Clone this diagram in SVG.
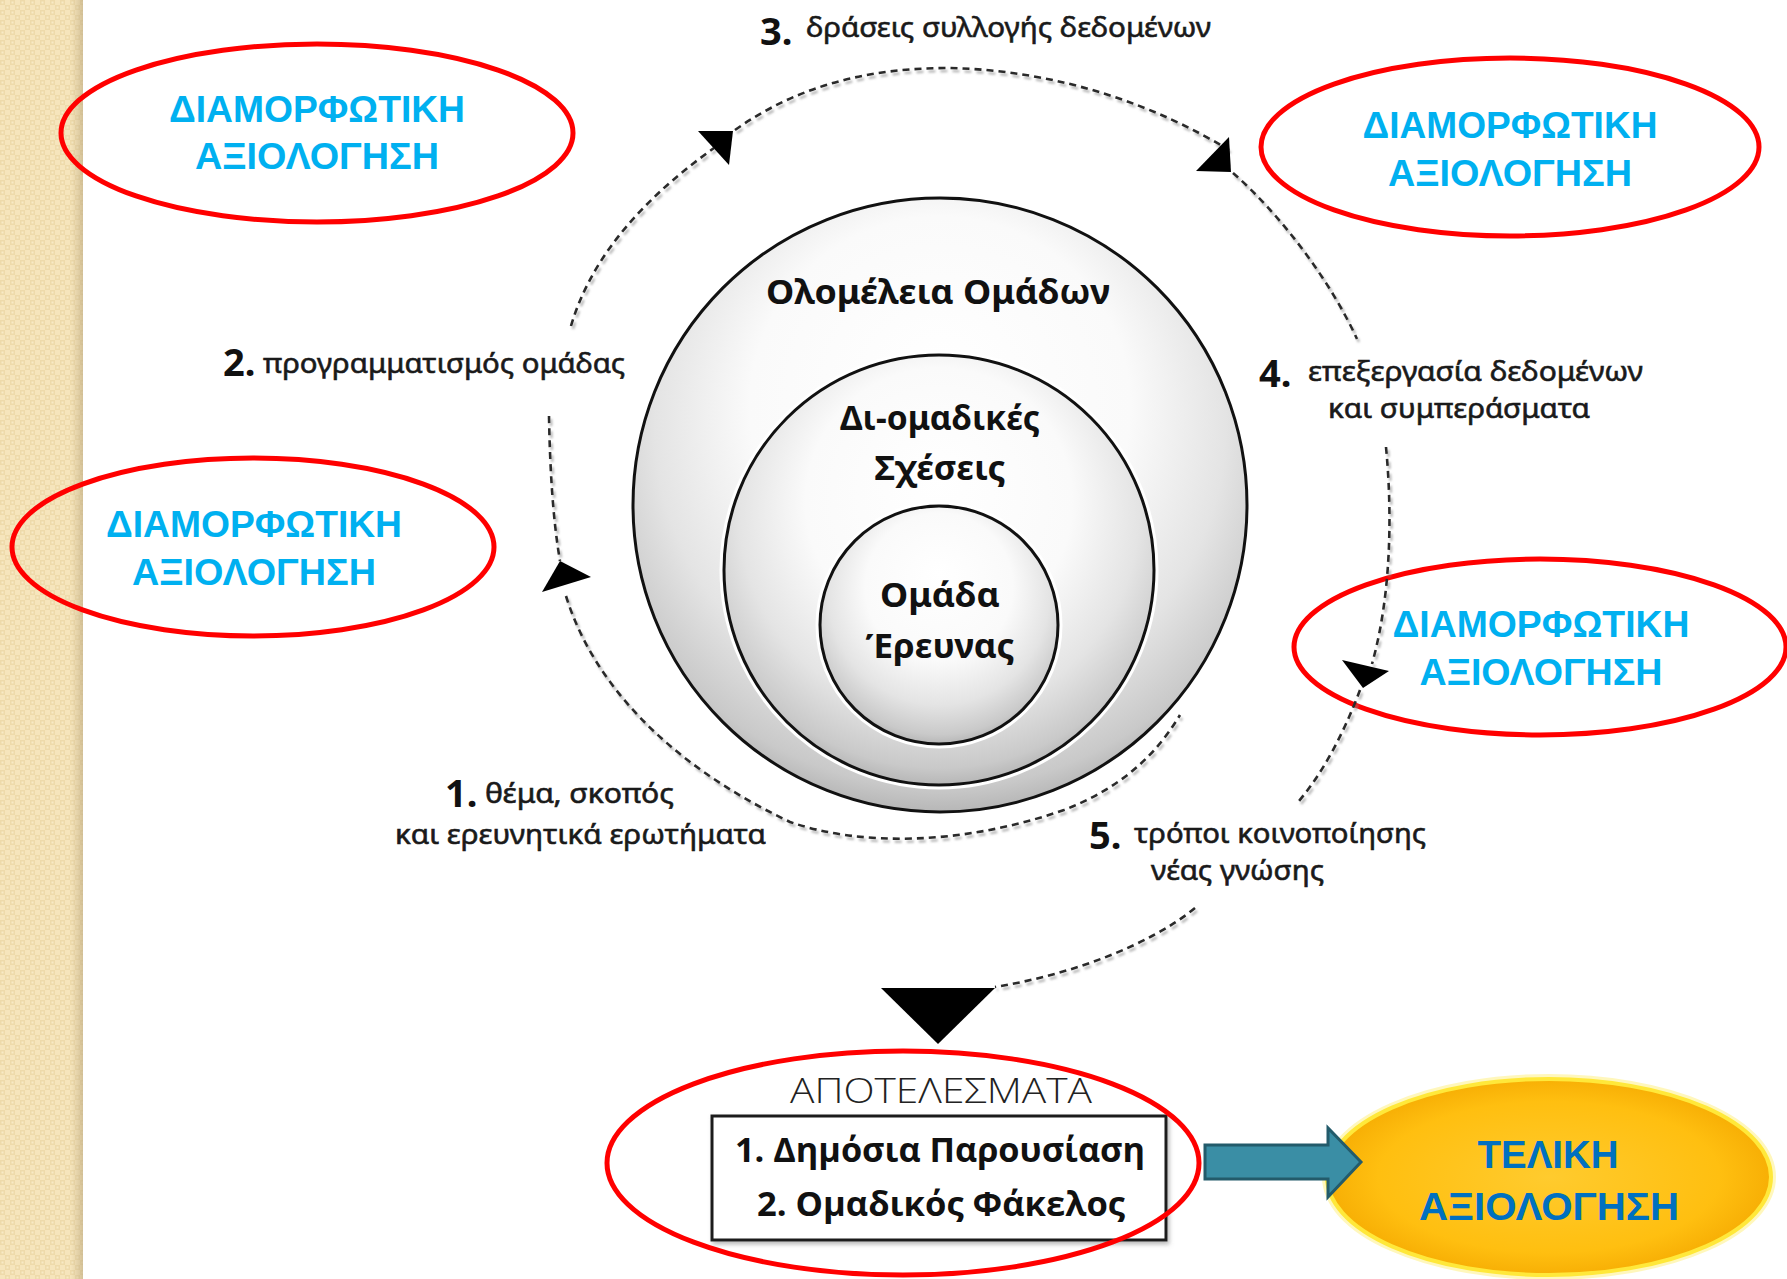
<svg xmlns="http://www.w3.org/2000/svg" width="1787" height="1279" viewBox="0 0 1787 1279">
<defs>
<pattern id="chk" x="0" y="0" width="10" height="10" patternUnits="userSpaceOnUse">
<rect width="10" height="10" fill="#F6E5BC"/>
<rect x="0" y="0" width="5" height="5" fill="#EEDAAA"/>
<rect x="5" y="5" width="5" height="5" fill="#EEDAAA"/>
<rect x="1.5" y="1.5" width="2" height="2" fill="#F8EAC6"/>
<rect x="6.5" y="6.5" width="2" height="2" fill="#F8EAC6"/>
</pattern>
<linearGradient id="edge" x1="0" y1="0" x2="1" y2="0">
<stop offset="0" stop-color="#C8B48A" stop-opacity="0"/>
<stop offset="1" stop-color="#B8A47A" stop-opacity="0.55"/>
</linearGradient>
<radialGradient id="disc" cx="0.5" cy="0.4" r="0.62" fx="0.5" fy="0.28">
<stop offset="0" stop-color="#ffffff"/>
<stop offset="0.5" stop-color="#fafafa"/>
<stop offset="0.75" stop-color="#e4e4e4"/>
<stop offset="0.92" stop-color="#c9c9c9"/>
<stop offset="1" stop-color="#adadad"/>
</radialGradient>
<radialGradient id="gold" cx="0.5" cy="0.5" r="0.55">
<stop offset="0" stop-color="#FFCB2E"/>
<stop offset="0.7" stop-color="#FFBF10"/>
<stop offset="1" stop-color="#F4A800"/>
</radialGradient>
<filter id="dshadow" x="-10%" y="-10%" width="120%" height="120%">
<feDropShadow dx="2" dy="3" stdDeviation="1.2" flood-color="#8a8a8a" flood-opacity="0.6"/>
</filter>
<filter id="soft" x="-10%" y="-10%" width="120%" height="120%">
<feDropShadow dx="2" dy="3" stdDeviation="2" flood-color="#777" flood-opacity="0.5"/>
</filter>
</defs>
<style>
.evr{fill:none;stroke:#FF0000;stroke-width:5}
.evt{font-family:"Liberation Sans",Arial,sans-serif;font-weight:bold;font-size:36px;fill:#00B0F0;text-anchor:middle}
.ring{stroke:#111;stroke-width:3;fill:url(#disc)}
.halo{fill:none;stroke:#ffffff;stroke-width:9}
.cl{font-family:"Noto Sans","Open Sans",sans-serif;font-weight:bold;font-size:34px;fill:#111;text-anchor:middle}
.num{font-family:"Noto Sans","Open Sans",sans-serif;font-weight:bold;font-size:38px;fill:#111}
.lab{font-family:"Noto Sans","Open Sans",sans-serif;font-size:28px;fill:#1a1a1a;stroke:#1a1a1a;stroke-width:0.6}
.dash{fill:none;stroke:#2a2a2a;stroke-width:2.6;stroke-dasharray:7 5}
.ah{fill:#000}
</style>
<rect width="1787" height="1279" fill="#ffffff"/>
<g id="side-strip">
<rect x="0" y="0" width="83" height="1279" fill="url(#chk)"/>
<rect x="70" y="0" width="13" height="1279" fill="url(#edge)"/>
</g>
<g id="circle-outer">
<circle cx="940" cy="505" r="307" class="ring"/>
<text class="cl" x="938" y="304" textLength="344" lengthAdjust="spacingAndGlyphs">Ολομέλεια Ομάδων</text>
</g>
<g id="circle-middle">
<circle cx="939" cy="570" r="215" class="halo"/>
<circle cx="939" cy="570" r="215" class="ring"/>
<text class="cl" x="940" y="430" textLength="200" lengthAdjust="spacingAndGlyphs">Δι-ομαδικές</text>
<text class="cl" x="940" y="480" textLength="131" lengthAdjust="spacingAndGlyphs">Σχέσεις</text>
</g>
<g id="circle-inner">
<circle cx="939" cy="625" r="119" class="halo"/>
<circle cx="939" cy="625" r="119" class="ring"/>
<text class="cl" x="940" y="607" textLength="120" lengthAdjust="spacingAndGlyphs">Ομάδα</text>
<text class="cl" x="940" y="658" textLength="149" lengthAdjust="spacingAndGlyphs">Έρευνας</text>
</g>
<g id="step-3">
<text class="num" x="760" y="45">3.</text>
<text class="lab" x="806" y="37" textLength="405" lengthAdjust="spacingAndGlyphs">δράσεις συλλογής δεδομένων</text>
</g>
<g id="step-2">
<text class="num" x="223" y="376">2.</text>
<text class="lab" x="263" y="373" textLength="362" lengthAdjust="spacingAndGlyphs">προγραμματισμός ομάδας</text>
</g>
<g id="step-4">
<text class="num" x="1259" y="387">4.</text>
<text class="lab" x="1308" y="381" textLength="335" lengthAdjust="spacingAndGlyphs">επεξεργασία δεδομένων</text>
<text class="lab" x="1328" y="418" textLength="262" lengthAdjust="spacingAndGlyphs">και συμπεράσματα</text>
</g>
<g id="step-1">
<text class="num" x="445" y="807">1.</text>
<text class="lab" x="485" y="803" textLength="189" lengthAdjust="spacingAndGlyphs">θέμα, σκοπός</text>
<text class="lab" x="395" y="844" textLength="371" lengthAdjust="spacingAndGlyphs">και ερευνητικά ερωτήματα</text>
</g>
<g id="step-5">
<text class="num" x="1089" y="849">5.</text>
<text class="lab" x="1134" y="843" textLength="292" lengthAdjust="spacingAndGlyphs">τρόποι κοινοποίησης</text>
<text class="lab" x="1151" y="880" textLength="173" lengthAdjust="spacingAndGlyphs">νέας γνώσης</text>
</g>
<g id="eval-1">
<ellipse cx="317" cy="133" rx="256" ry="89" class="evr"/>
<text class="evt" x="317" y="122" textLength="296" lengthAdjust="spacingAndGlyphs">ΔΙΑΜΟΡΦΩΤΙΚΗ</text>
<text class="evt" x="317" y="169" textLength="244" lengthAdjust="spacingAndGlyphs">ΑΞΙΟΛΟΓΗΣΗ</text>
</g>
<g id="eval-2">
<ellipse cx="1510" cy="147" rx="249" ry="89" class="evr"/>
<text class="evt" x="1510" y="138" textLength="295" lengthAdjust="spacingAndGlyphs">ΔΙΑΜΟΡΦΩΤΙΚΗ</text>
<text class="evt" x="1510" y="186" textLength="244" lengthAdjust="spacingAndGlyphs">ΑΞΙΟΛΟΓΗΣΗ</text>
</g>
<g id="eval-3">
<ellipse cx="253" cy="547" rx="241" ry="89" class="evr"/>
<text class="evt" x="254" y="537" textLength="296" lengthAdjust="spacingAndGlyphs">ΔΙΑΜΟΡΦΩΤΙΚΗ</text>
<text class="evt" x="254" y="585" textLength="244" lengthAdjust="spacingAndGlyphs">ΑΞΙΟΛΟΓΗΣΗ</text>
</g>
<g id="eval-4">
<ellipse cx="1540" cy="647" rx="246" ry="88" class="evr"/>
<text class="evt" x="1541" y="637" textLength="297" lengthAdjust="spacingAndGlyphs">ΔΙΑΜΟΡΦΩΤΙΚΗ</text>
<text class="evt" x="1541" y="685" textLength="243" lengthAdjust="spacingAndGlyphs">ΑΞΙΟΛΟΓΗΣΗ</text>
</g>
<g id="results">
<text x="941" y="1103" font-family="'Open Sans','Noto Sans',sans-serif" font-weight="300" font-size="35" fill="#222" text-anchor="middle" textLength="302" lengthAdjust="spacingAndGlyphs">ΑΠΟΤΕΛΕΣΜΑΤΑ</text>
<rect x="712" y="1116" width="454" height="124" fill="#ffffff" stroke="#1a1a1a" stroke-width="3" filter="url(#soft)"/>
<text x="940" y="1162" font-family="'Open Sans','Noto Sans',sans-serif" font-weight="bold" font-size="34" fill="#111" text-anchor="middle" textLength="410" lengthAdjust="spacingAndGlyphs">1. Δημόσια Παρουσίαση</text>
<text x="941" y="1216" font-family="'Open Sans','Noto Sans',sans-serif" font-weight="bold" font-size="34" fill="#111" text-anchor="middle" textLength="368" lengthAdjust="spacingAndGlyphs">2. Ομαδικός Φάκελος</text>
<ellipse cx="903" cy="1163" rx="296" ry="112" class="evr"/>
</g>
<g id="final-eval">
<ellipse cx="1549" cy="1177" rx="222" ry="98" fill="none" stroke="#FFF3A0" stroke-width="10" opacity="0.7"/>
<ellipse cx="1549" cy="1177" rx="222" ry="98" fill="url(#gold)" stroke="#FFE83A" stroke-width="4"/>
<text x="1548" y="1168" font-family="'Liberation Sans',Arial,sans-serif" font-weight="bold" font-size="39" fill="#0070C0" text-anchor="middle" textLength="141" lengthAdjust="spacingAndGlyphs">ΤΕΛΙΚΗ</text>
<text x="1549" y="1220" font-family="'Liberation Sans',Arial,sans-serif" font-weight="bold" font-size="39" fill="#0070C0" text-anchor="middle" textLength="260" lengthAdjust="spacingAndGlyphs">ΑΞΙΟΛΟΓΗΣΗ</text>
</g>
<g id="connectors">
<g filter="url(#dshadow)">
<path class="dash" d="M571,326 C588,268 630,208 714,148"/>
<path class="dash" d="M735,130 C800,84 872,68 948,68 C1062,70 1160,108 1229,150"/>
<path class="dash" d="M1233,173 C1280,214 1330,280 1357,339"/>
<path class="dash" d="M1386,447 C1393,520 1390,600 1372,664"/>
<path class="dash" d="M1360,690 C1345,730 1325,770 1299,801"/>
<path class="dash" d="M549,416 C550,470 553,520 560,561"/>
<path class="dash" d="M566,596 C592,680 664,762 790,822 C860,846 960,846 1064,810 C1110,792 1150,765 1180,715"/>
<path class="dash" d="M1195,908 C1150,945 1070,975 995,987"/>
</g>
<polygon class="ah" points="698,131 733,131 729,165"/>
<polygon class="ah" points="1229,137 1196,171 1231,172"/>
<polygon class="ah" points="560,561 591,577 542,592"/>
<polygon class="ah" points="1342,660 1389,671 1363,688"/>
<polygon class="ah" points="881,988 995,988 938,1044"/>
<polygon points="1205,1145 1328,1145 1328,1128 1361,1162 1328,1197 1328,1179 1205,1179" fill="#3A8EA5" stroke="#235B6B" stroke-width="3" stroke-linejoin="miter"/>
</g>
</svg>
